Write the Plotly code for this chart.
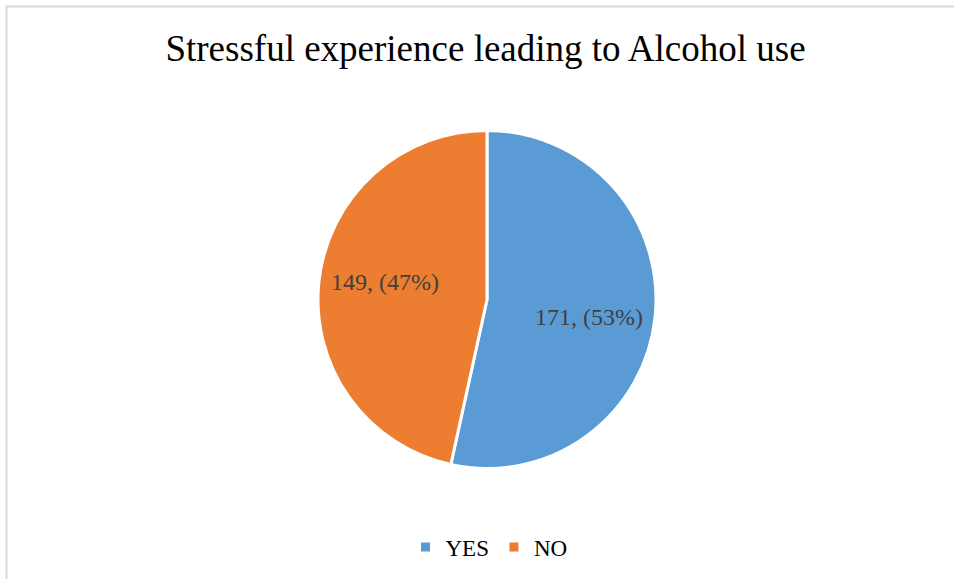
import math
import plotly.graph_objects as go

categories = ["YES", "NO"]
values = [171, 149]
colors = ["#5B9BD5", "#ED7D31"]
title_text = "Stressful experience leading to Alcohol use"

W, H = 954, 579
cx, cy, r = 487, 299.5, 169

fig = go.Figure(go.Pie(
    labels=categories,
    values=values,
    sort=False,
    direction="clockwise",
    rotation=0,
    marker=dict(colors=colors, line=dict(color="white", width=3)),
    textinfo="none",
    hoverinfo="label+value+percent",
    domain=dict(x=[(cx - r) / W, (cx + r) / W], y=[(H - cy - r) / H, (H - cy + r) / H]),
))

# data labels placed at each slice's mid-angle (Excel-like positioning)
total = sum(values)
annotations = []
cum = 0
label_r = 103
ang_shift = 3.5
for v in values:
    mid = (cum + v / 2) / total * 360 + ang_shift
    cum += v
    a = math.radians(mid)
    px = cx + label_r * math.sin(a)
    py = cy - label_r * math.cos(a)
    annotations.append(dict(
        x=px / W, y=1 - py / H, xref="paper", yref="paper",
        text=f"{v}, ({round(v / total * 100)}%)", showarrow=False,
        xanchor="center", yanchor="middle",
        font=dict(family="Liberation Serif", size=24, color="#404040"),
    ))

fig.update_layout(
    width=W, height=H,
    margin=dict(l=0, r=0, t=0, b=0),
    paper_bgcolor="white",
    title=dict(text=title_text, x=485.5 / W, xanchor="center", y=1 - 48 / H, yanchor="middle",
               font=dict(family="Liberation Serif", size=37, color="black")),
    legend=dict(orientation="h", x=(477 + 12) / W, xanchor="center", y=1 - 547 / H, yanchor="middle",
                itemwidth=30,
                font=dict(family="Liberation Serif", size=23, color="black")),
    annotations=annotations,
    shapes=[dict(type="rect", xref="paper", yref="paper",
                 x0=6.5 / W, x1=1.05, y0=-0.05, y1=1 - 6.5 / H,
                 line=dict(color="#D9D9D9", width=2), fillcolor="rgba(0,0,0,0)")],
)

fig.write_html("out.html", config={"displayModeBar": False},
               post_script="document.body.style.margin='0';document.body.style.overflow='hidden';")
